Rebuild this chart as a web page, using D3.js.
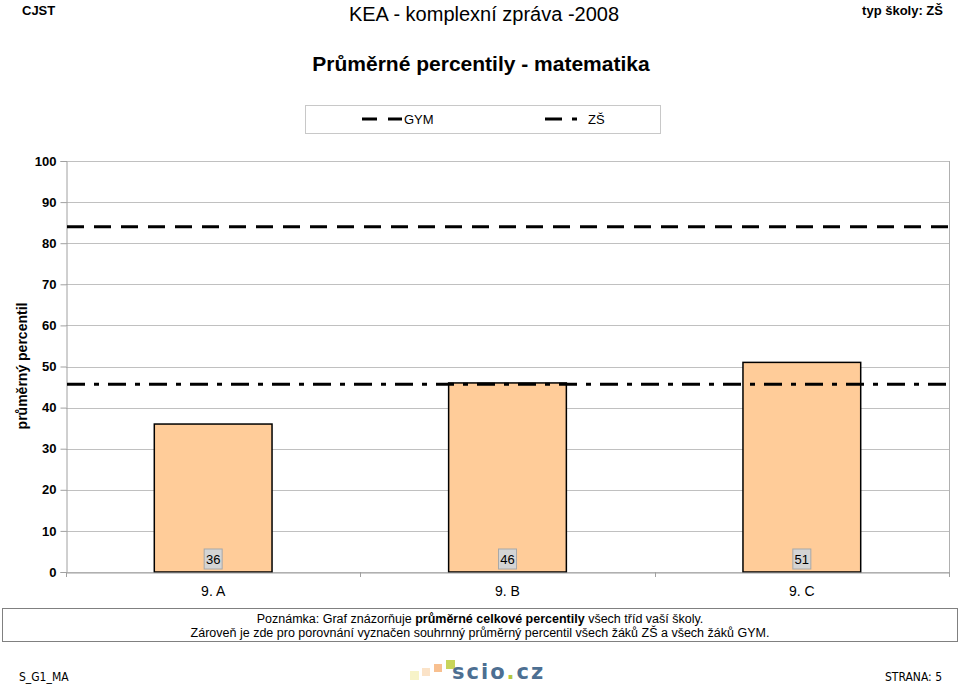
<!DOCTYPE html>
<html><head><meta charset="utf-8">
<script src="https://cdn.jsdelivr.net/npm/d3@7"></script>
<style>
body{margin:0;background:#fff;}
svg{display:block;font-family:"Liberation Sans",Arial,sans-serif;}
</style></head>
<body>
<svg id="c" width="960" height="685"></svg>
<script>
const categories = ["9. A", "9. B", "9. C"];
const values = [36, 46, 51];
const valueLabels = ["36", "46", "51"];
const refNames = ["GYM", "ZŠ"];
const refValues = [84, 45.7];
const yTicks = [0, 10, 20, 30, 40, 50, 60, 70, 80, 90, 100];

const svg = d3.select("#c");
const L = 66, R = 949, T = 161, B = 572;
const x = d3.scaleBand().domain(categories).range([L, R]).paddingInner(0.6).paddingOuter(0.3);
const xb = d3.scaleBand().domain(categories).range([L, R]);
const y = d3.scaleLinear().domain([0, 100]).range([B, T]);

// header
svg.append("text").attr("x", 22).attr("y", 15).attr("font-size", 13).attr("font-weight", "bold").text("CJST");
svg.append("text").attr("x", 484).attr("y", 21).attr("text-anchor", "middle").attr("font-size", 20).text("KEA - komplexní zpráva -2008");
svg.append("text").attr("x", 943).attr("y", 15).attr("text-anchor", "end").attr("font-size", 13).attr("font-weight", "bold").text("typ školy: ZŠ");
svg.append("text").attr("x", 481).attr("y", 71).attr("text-anchor", "middle").attr("font-size", 21).attr("font-weight", "bold").text("Průměrné percentily - matematika");

// legend
const dashes = ["17,10", "18,9,5,9"];
svg.append("rect").attr("x", 305.5).attr("y", 105.5).attr("width", 355).attr("height", 28).attr("fill", "#fff").attr("stroke", "#c8c8c8");
const legX = [362, 545];
refNames.forEach((n, i) => {
  svg.append("line").attr("x1", legX[i]).attr("x2", legX[i] + (i === 0 ? 40 : 32)).attr("y1", 119).attr("y2", 119)
    .attr("stroke", "#000").attr("stroke-width", 3).attr("stroke-dasharray", i === 0 ? "15,11" : "17,10,5,9");
  svg.append("text").attr("x", legX[i] + (i === 0 ? 42 : 43)).attr("y", 124).attr("font-size", 13).text(n);
});

// gridlines
svg.append("g").selectAll("line").data(yTicks).join("line")
  .attr("x1", L).attr("x2", R).attr("y1", d => Math.round(y(d)) + 0.5).attr("y2", d => Math.round(y(d)) + 0.5)
  .attr("stroke", "#c0c0c0").attr("stroke-width", 1);
// right border
svg.append("line").attr("x1", R + 0.5).attr("x2", R + 0.5).attr("y1", T).attr("y2", B).attr("stroke", "#b0b0b0");

// y axis
const ya = svg.append("g").attr("transform", `translate(${L + 0.5},0)`)
  .call(d3.axisLeft(y).tickValues(yTicks).tickSize(6).tickPadding(4));
ya.select(".domain").attr("stroke", "#a0a0a0");
ya.selectAll(".tick line").attr("stroke", "#a0a0a0");
ya.selectAll("text").attr("font-size", 13).attr("font-weight", "bold").attr("fill", "#000").attr("font-family", "Liberation Sans, Arial, sans-serif");

svg.append("text").attr("transform", `translate(27,366) rotate(-90)`).attr("text-anchor", "middle")
  .attr("font-size", 14).attr("font-weight", "bold").text("průměrný percentil");

// bars
svg.append("g").selectAll("rect").data(values).join("rect")
  .attr("x", (d, i) => x(categories[i])).attr("width", x.bandwidth())
  .attr("y", d => y(d)).attr("height", d => B - y(d))
  .attr("fill", "#FFCC99").attr("stroke", "#000").attr("stroke-width", 1.5);

// x axis
const xa = svg.append("g").attr("transform", `translate(0,${B + 0.5})`)
  .call(d3.axisBottom(xb).tickSize(0).tickPadding(14));
xa.select(".domain").attr("stroke", "#a0a0a0");
xa.selectAll("text").attr("font-size", 14).attr("fill", "#000").attr("font-family", "Liberation Sans, Arial, sans-serif");
svg.append("g").selectAll("line").data([L, ...categories.map(c => xb(c) + xb.bandwidth())]).join("line")
  .attr("x1", d => Math.round(d) + 0.5).attr("x2", d => Math.round(d) + 0.5).attr("y1", B).attr("y2", B + 5).attr("stroke", "#a0a0a0");

// reference lines
refValues.forEach((v, i) => {
  svg.append("line").attr("x1", L + 1).attr("x2", R).attr("y1", y(v)).attr("y2", y(v))
    .attr("stroke", "#000").attr("stroke-width", 3).attr("stroke-dasharray", dashes[i]);
});

// value labels
const vl = svg.append("g").selectAll("g").data(values).join("g")
  .attr("transform", (d, i) => `translate(${x(categories[i]) + x.bandwidth() / 2},559)`);
vl.append("rect").attr("x", -9).attr("y", -10).attr("width", 18).attr("height", 20).attr("fill", "#d4d4d4").attr("stroke", "#a8a8a8");
vl.append("text").attr("text-anchor", "middle").attr("y", 5).attr("font-size", 13).text((d, i) => valueLabels[i]);

// note box
svg.append("rect").attr("x", 2.5).attr("y", 608.5).attr("width", 955).attr("height", 33).attr("fill", "#fff").attr("stroke", "#808080");
const t1 = svg.append("text").attr("x", 480).attr("y", 623).attr("text-anchor", "middle").attr("font-size", 12.5);
t1.append("tspan").text("Poznámka: Graf znázorňuje ");
t1.append("tspan").attr("font-weight", "bold").text("průměrné celkové percentily");
t1.append("tspan").text(" všech tříd vaší školy.");
svg.append("text").attr("x", 480).attr("y", 637).attr("text-anchor", "middle").attr("font-size", 12.5)
  .text("Zároveň je zde pro porovnání vyznačen souhrnný průměrný percentil všech žáků ZŠ a všech žáků GYM.");

// footer
svg.append("text").attr("x", 19).attr("y", 681).attr("font-size", 12).attr("font-family", "DejaVu Sans Condensed, DejaVu Sans, sans-serif").text("S_G1_MA");
svg.append("text").attr("x", 942).attr("y", 681).attr("text-anchor", "end").attr("font-size", 12).attr("font-family", "DejaVu Sans Condensed, DejaVu Sans, sans-serif").text("STRANA: 5");
const lg = svg.append("g");
lg.append("rect").attr("x", 410).attr("y", 671).attr("width", 9).attr("height", 9).attr("fill", "#f7f3c8");
lg.append("rect").attr("x", 422).attr("y", 668).attr("width", 8).attr("height", 8).attr("fill", "#fbe3c8");
lg.append("rect").attr("x", 434).attr("y", 664).attr("width", 8).attr("height", 8).attr("fill", "#f8c090");
lg.append("rect").attr("x", 446).attr("y", 660).attr("width", 9).attr("height", 9).attr("fill", "#c8d45a");
const lt = lg.append("text").attr("x", 452).attr("y", 679).attr("font-size", 21).attr("font-weight", "bold").attr("font-family", "DejaVu Sans, sans-serif").attr("letter-spacing", 2);
lt.append("tspan").attr("fill", "#4d6f92").text("scio");
lt.append("tspan").attr("fill", "#b4c63c").text(".");
lt.append("tspan").attr("fill", "#4d6f92").text("cz");
</script>
</body></html>
